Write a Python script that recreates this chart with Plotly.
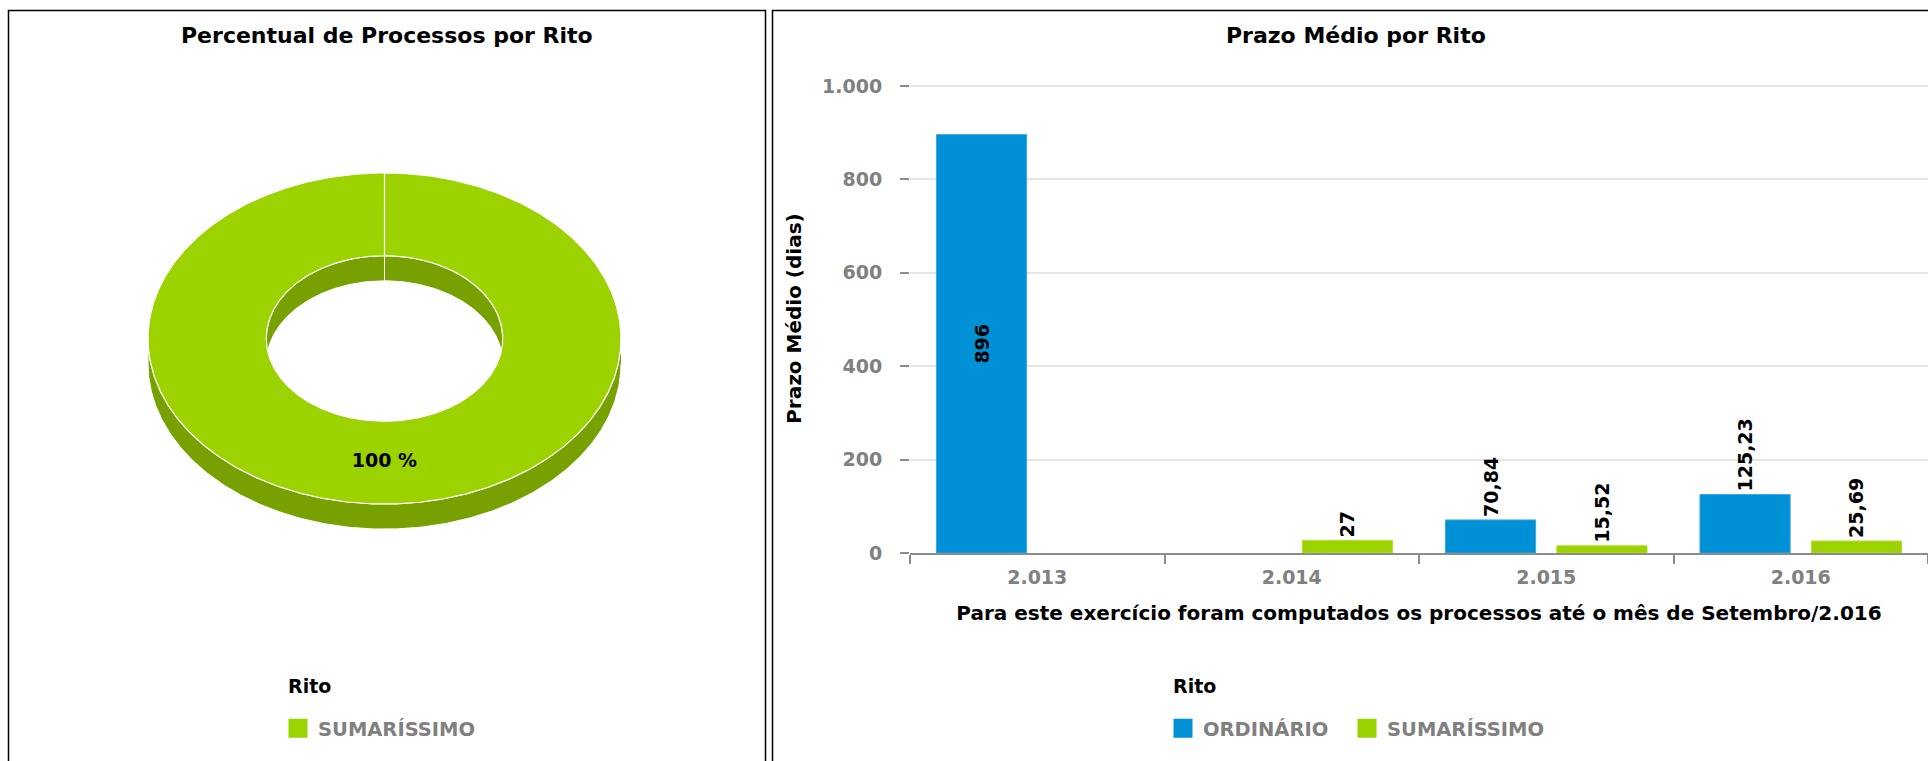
import numpy as np
import plotly.graph_objects as go

W, H = 1928, 761

# ---------------- data ----------------
pie_labels = ["SUMARÍSSIMO"]
pie_values = [100]

anos = ["2.013", "2.014", "2.015", "2.016"]
prazo_ordinario = [896, None, 70.84, 125.23]
prazo_sumarissimo = [None, 27, 15.52, 25.69]

series_names = ["ORDINÁRIO", "SUMARÍSSIMO"]

cor_topo = {"ORDINÁRIO": "#0090d5", "SUMARÍSSIMO": "#9bd200"}
cor_lado = {"ORDINÁRIO": "#006fa6", "SUMARÍSSIMO": "#77a100"}
cor_borda = {"ORDINÁRIO": "#3aa9e2", "SUMARÍSSIMO": "#b4e030"}

FONT = "DejaVu Sans"
GRAY = "#808080"


def px_x(p):
    return p / W


def px_y(p):
    return 1 - p / H


fig = go.Figure()

# ---------------- 3D donut (left) ----------------
R = 236.5            # px per unit radius
CX, CY = 384.5, 338.5
RY = 0.70            # vertical squash of the ellipse
HOLE = 0.5
DEPTH = 0.106


def runs(mask):
    idx = np.where(mask)[0]
    if len(idx) == 0:
        return []
    out, cur = [], [idx[0]]
    for i in idx[1:]:
        if i == cur[-1] + 1:
            cur.append(i)
        else:
            out.append(cur)
            cur = [i]
    out.append(cur)
    return out


total = float(sum(pie_values))
start = 90.0
slices = []
for lab, val in zip(pie_labels, pie_values):
    sweep = 360.0 * val / total
    t = np.radians(np.linspace(start, start - sweep, 721))
    slices.append((lab, val, t, start - sweep / 2))
    start -= sweep

common = dict(xaxis="x2", yaxis="y2", mode="lines", fill="toself",
              hoverinfo="skip", showlegend=False)

# outer side walls (front half)
for lab, val, t, mid in slices:
    for r in runs(np.sin(t) <= 1e-9):
        ts = t[r]
        x = np.concatenate([np.cos(ts), np.cos(ts)[::-1]])
        y = np.concatenate([RY * np.sin(ts), RY * np.sin(ts)[::-1] - DEPTH])
        fig.add_trace(go.Scatter(x=x, y=y, fillcolor=cor_lado[lab],
                                 line=dict(color="white", width=1), **common))

# inner walls (back half of the hole)
for lab, val, t, mid in slices:
    for r in runs(np.sin(t) >= -1e-9):
        ts = t[r]
        x = HOLE * np.concatenate([np.cos(ts), np.cos(ts)[::-1]])
        y = np.concatenate([HOLE * RY * np.sin(ts),
                            HOLE * RY * np.sin(ts)[::-1] - DEPTH])
        fig.add_trace(go.Scatter(x=x, y=y, fillcolor=cor_lado[lab],
                                 line=dict(color="white", width=1), **common))

# top faces
for lab, val, t, mid in slices:
    xo, yo = np.cos(t), RY * np.sin(t)
    xi, yi = HOLE * np.cos(t), HOLE * RY * np.sin(t)
    x = np.concatenate([xo, xi[::-1], xo[:1]])
    y = np.concatenate([yo, yi[::-1], yo[:1]])
    fig.add_trace(go.Scatter(x=x, y=y, fillcolor=cor_topo[lab],
                             line=dict(color="white", width=1.2), **common))

# labels
rm = (1 + HOLE) / 2
fig.add_trace(go.Scatter(
    x=[rm * np.cos(np.radians(m)) for _, _, _, m in slices],
    y=[rm * RY * np.sin(np.radians(m)) for _, _, _, m in slices],
    text=[f"{100 * v / total:.0f} %" for _, v, _, _ in slices],
    mode="text", xaxis="x2", yaxis="y2", hoverinfo="skip", showlegend=False,
    textfont=dict(family=FONT, size=19, color="black", weight=700)))

# legend entries for the donut
for lab in pie_labels:
    fig.add_trace(go.Scatter(
        x=[None], y=[None], xaxis="x2", yaxis="y2", mode="markers", name=lab,
        marker=dict(symbol="square", size=16, color=cor_topo[lab],
                    line=dict(color=cor_topo[lab], width=3)),
        legend="legend"))

# ---------------- bars (right) ----------------
vmax = max(v for v in prazo_ordinario + prazo_sumarissimo if v is not None)
for i, (name, vals) in enumerate(zip(series_names, [prazo_ordinario, prazo_sumarissimo])):
    pos = ["inside" if (v is not None and v > 0.5 * vmax) else "outside" for v in vals]
    fig.add_trace(go.Bar(
        x=anos, y=vals, name=name, showlegend=False,
        marker=dict(color=cor_topo[name], line=dict(color=cor_borda[name], width=1)),
        texttemplate="%{y:.2~f}", textposition=pos, textangle=-90,
        insidetextanchor="middle", cliponaxis=False, constraintext="none",
        textfont=dict(family=FONT, size=19, color="black", weight=700),
        hoverinfo="x+y+name"))
    leg_kw = dict(legendwidth=139) if i < len(series_names) - 1 else {}
    fig.add_trace(go.Scatter(
        x=[None], y=[None], mode="markers", name=name,
        marker=dict(symbol="square", size=16, color=cor_topo[name],
                    line=dict(color=cor_topo[name], width=3)),
        legend="legend2", **leg_kw))

tickfont = dict(family=FONT, size=19, color=GRAY, weight=700)
titlefont = dict(family=FONT, size=20, color="black", weight=700)
legtitlefont = dict(family=FONT, size=19, color="black", weight=700)
legfont = dict(family=FONT, size=19.5, color=GRAY, weight=700)

Y_TOP = 1004  # a little headroom so the 1.000 grid line is kept
px_per_unit = (553 - 86) / 1000

fig.update_layout(
    width=W, height=H, autosize=False,
    margin=dict(l=0, r=0, t=0, b=0, autoexpand=False),
    paper_bgcolor="white", plot_bgcolor="white",
    separators=",.",
    barmode="group", bargap=0.125, bargroupgap=0.19,
    xaxis=dict(domain=[px_x(910), 1], type="category", range=[-0.5, 3.5],
               showgrid=False, showline=True, linecolor="#8c8c8c", linewidth=2,
               ticks="outside", tickson="boundaries", ticklen=9, tickwidth=2,
               tickcolor="#8c8c8c", tickfont=tickfont, ticklabelstandoff=6,
               zeroline=False, fixedrange=True, automargin=False,
               title=dict(text="Para este exercício foram computados os processos até o mês de Setembro/2.016",
                          font=titlefont, standoff=19)),
    yaxis=dict(domain=[px_y(553), px_y(553 - Y_TOP * px_per_unit)], range=[0, Y_TOP],
               tickvals=[0, 200, 400, 600, 800, 1000],
               tickformat=",d", showgrid=True, gridcolor="#e6e6e6", gridwidth=1.5,
               zeroline=False, showline=False, ticks="outside", ticklen=9,
               tickwidth=2, tickcolor="#8c8c8c", tickfont=tickfont,
               ticklabelstandoff=14, fixedrange=True, automargin=False,
               title=dict(text="Prazo Médio (dias)", font=titlefont, standoff=15)),
    xaxis2=dict(domain=[0, px_x(770)], range=[-CX / R, (770 - CX) / R],
                anchor="y2", visible=False, fixedrange=True, automargin=False),
    yaxis2=dict(domain=[0, 1], range=[-(H - CY) / R, CY / R], anchor="x2",
                visible=False, fixedrange=True, automargin=False),
    legend=dict(orientation="h", x=px_x(278), y=px_y(709), xanchor="left",
                yanchor="top", font=legfont, bgcolor="rgba(0,0,0,0)",
                itemsizing="trace"),
    legend2=dict(orientation="h", x=px_x(1163), y=px_y(709), xanchor="left",
                 yanchor="top", font=legfont, bgcolor="rgba(0,0,0,0)",
                 itemsizing="trace"),
    annotations=[
        dict(text="Percentual de Processos por Rito", x=px_x(386.5), y=px_y(36),
             xref="paper", yref="paper", showarrow=False, xanchor="center",
             yanchor="middle", font=dict(family=FONT, size=22, color="black", weight=700)),
        dict(text="Prazo Médio por Rito", x=px_x(1356), y=px_y(36),
             xref="paper", yref="paper", showarrow=False, xanchor="center",
             yanchor="middle", font=dict(family=FONT, size=22, color="black", weight=700)),
        dict(text="Rito", x=px_x(286), y=px_y(686), xref="paper", yref="paper",
             showarrow=False, xanchor="left", yanchor="middle", font=legtitlefont),
        dict(text="Rito", x=px_x(1171), y=px_y(686), xref="paper", yref="paper",
             showarrow=False, xanchor="left", yanchor="middle", font=legtitlefont),
    ],
    shapes=[
        dict(type="rect", xref="paper", yref="paper", x0=px_x(8.5), x1=px_x(765.5),
             y0=px_y(10.5), y1=px_y(H + 20), line=dict(color="black", width=1.5), layer="below"),
        dict(type="rect", xref="paper", yref="paper", x0=px_x(772.5), x1=px_x(W + 20),
             y0=px_y(10.5), y1=px_y(H + 20), line=dict(color="black", width=1.5), layer="below"),
    ],
)

fig.write_html("out.html", config={"displayModeBar": False},
               post_script="document.body.style.margin='0';document.body.style.overflow='hidden';")
